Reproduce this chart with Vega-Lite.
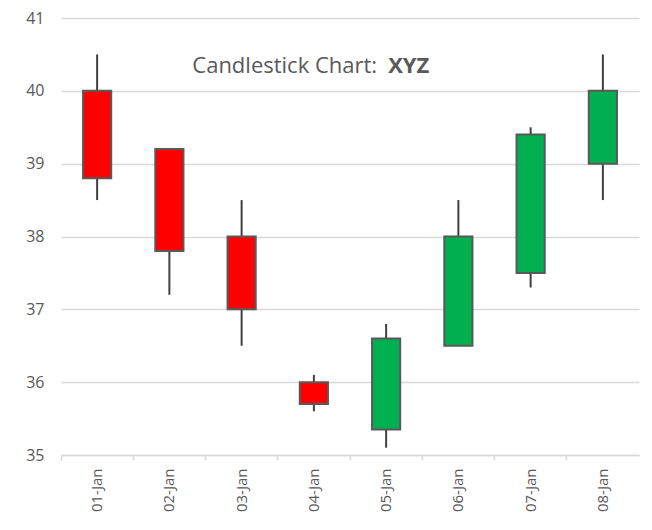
{
  "$schema": "https://vega.github.io/schema/vega-lite/v6.json",
  "width": 578,
  "height": 437,
  "autosize": "none",
  "padding": {"left": 61, "top": 18, "right": 13, "bottom": 75},
  "background": "white",
  "config": {"view": {"stroke": null}, "font": "Open Sans"},
  "data": {"values": [
    {"date": "01-Jan", "open": 40.0, "high": 40.5, "low": 38.5, "close": 38.8},
    {"date": "02-Jan", "open": 39.2, "high": 39.2, "low": 37.2, "close": 37.8},
    {"date": "03-Jan", "open": 38.0, "high": 38.5, "low": 36.5, "close": 37.0},
    {"date": "04-Jan", "open": 36.0, "high": 36.1, "low": 35.6, "close": 35.7},
    {"date": "05-Jan", "open": 35.35, "high": 36.8, "low": 35.1, "close": 36.6},
    {"date": "06-Jan", "open": 36.5, "high": 38.5, "low": 36.5, "close": 38.0},
    {"date": "07-Jan", "open": 37.5, "high": 39.5, "low": 37.3, "close": 39.4},
    {"date": "08-Jan", "open": 39.0, "high": 40.5, "low": 38.5, "close": 40.0}
  ]},
  "encoding": {
    "x": {
      "field": "date", "type": "ordinal", "sort": null,
      "scale": {"paddingInner": 0, "paddingOuter": 0},
      "axis": {
        "title": null, "labelAngle": -90, "labelFontSize": 15, "labelColor": "#595959",
        "bandPosition": 0, "tickColor": "#d9d9d9", "tickSize": 5, "tickWidth": 1.5,
        "domainColor": "#d9d9d9", "domainWidth": 1.5, "labelPadding": 8, "grid": false
      }
    }
  },
  "layer": [
    {
      "mark": {"type": "rule", "color": "#404040", "strokeWidth": 2},
      "encoding": {
        "y": {
          "field": "low", "type": "quantitative",
          "scale": {"domain": [35, 41], "nice": false, "zero": false},
          "axis": {
            "title": null, "values": [35, 36, 37, 38, 39, 40, 41], "format": "d", "ticks": false, "domain": false,
            "gridColor": "#d9d9d9", "gridWidth": 1.5, "labelFontSize": 16, "labelColor": "#595959",
            "labelPadding": 17
          }
        },
        "y2": {"field": "high"}
      }
    },
    {
      "mark": {"type": "bar", "width": {"band": 0.39}, "stroke": "#595959", "strokeWidth": 2},
      "encoding": {
        "y": {"field": "open", "type": "quantitative"},
        "y2": {"field": "close"},
        "fill": {
          "condition": {"test": "datum.open > datum.close", "value": "#ff0000"},
          "value": "#00b050"
        }
      }
    },
    {
      "data": {"values": [{"date": "05-Jan", "y": 40.34, "label": "Candlestick Chart:"}]},
      "mark": {"type": "text", "align": "right", "baseline": "middle", "dx": -9, "fontSize": 22, "color": "#595959"},
      "encoding": {"y": {"field": "y", "type": "quantitative"}, "text": {"field": "label"}}
    },
    {
      "data": {"values": [{"date": "05-Jan", "y": 40.34, "label": "XYZ"}]},
      "mark": {"type": "text", "align": "left", "baseline": "middle", "dx": 2, "fontSize": 22, "fontWeight": "bold", "color": "#595959"},
      "encoding": {"y": {"field": "y", "type": "quantitative"}, "text": {"field": "label"}}
    }
  ]
}
